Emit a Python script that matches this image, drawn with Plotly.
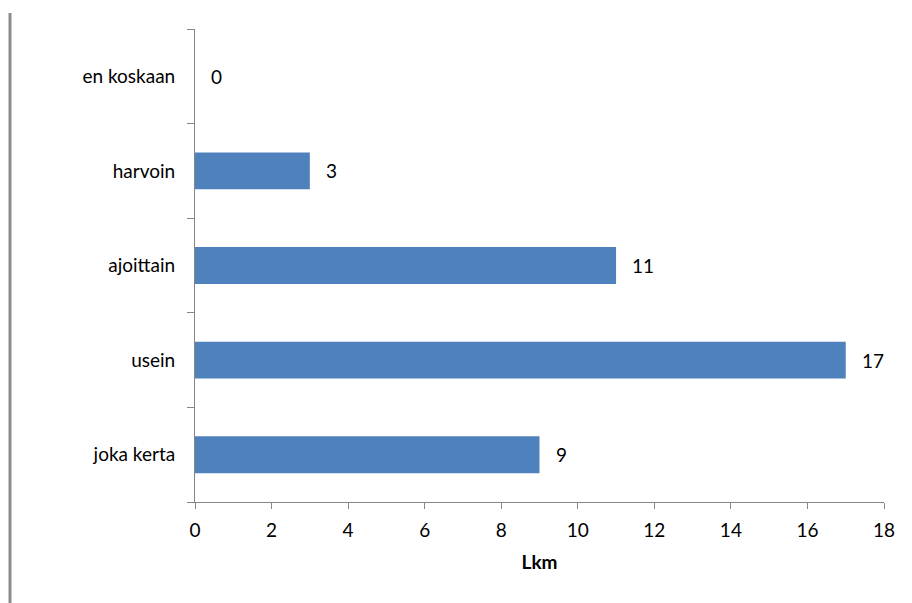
import plotly.graph_objects as go

categories = ["joka kerta", "usein", "ajoittain", "harvoin", "en koskaan"]
values = [9, 17, 11, 3, 0]
x_ticks = [0, 2, 4, 6, 8, 10, 12, 14, 16, 18]
x_title = "Lkm"

FONT = "Lato, Open Sans, sans-serif"
FS = 19
AXIS_COLOR = "#868686"

fig = go.Figure(go.Bar(
    x=values, y=categories, orientation="h",
    marker=dict(color="#4F81BD", line=dict(width=0)),
    width=0.39,
    hoverinfo="x+y",
))

annotations = [
    dict(x=v, y=c, xref="x", yref="y", text=str(v), showarrow=False,
         xanchor="left", yanchor="middle", xshift=14,
         font=dict(family=FONT, size=FS, color="#000000"))
    for c, v in zip(categories, values)
]

fig.update_layout(
    width=912, height=603,
    margin=dict(l=195, r=28, t=29, b=101),
    plot_bgcolor="white", paper_bgcolor="white",
    showlegend=False,
    font=dict(family=FONT, size=FS, color="#000000"),
    annotations=annotations,
    xaxis=dict(
        range=[0, 18], tickvals=x_ticks, ticktext=[str(t) for t in x_ticks],
        showgrid=False, zeroline=False, showline=True, linecolor=AXIS_COLOR, linewidth=1,
        ticks="outside", ticklen=6, tickcolor=AXIS_COLOR,
        tickfont=dict(family=FONT, size=FS), ticklabelstandoff=5,
        title=dict(text="<b>" + x_title + "</b>", font=dict(family=FONT, size=FS), standoff=15),
    ),
    yaxis=dict(
        type="category", categoryorder="array", categoryarray=categories,
        showgrid=False, zeroline=False, showline=True, linecolor=AXIS_COLOR, linewidth=1,
        ticks="outside", ticklen=7, tickcolor=AXIS_COLOR, tickson="boundaries",
        tickfont=dict(family=FONT, size=FS), ticklabelstandoff=15,
    ),
    shapes=[dict(type="line", xref="paper", yref="paper",
                 x0=-0.2685, x1=-0.2685, y0=-0.2135, y1=1.0338,
                 line=dict(color="#8C8C8C", width=3))],
)

fig.write_html("out.html")
